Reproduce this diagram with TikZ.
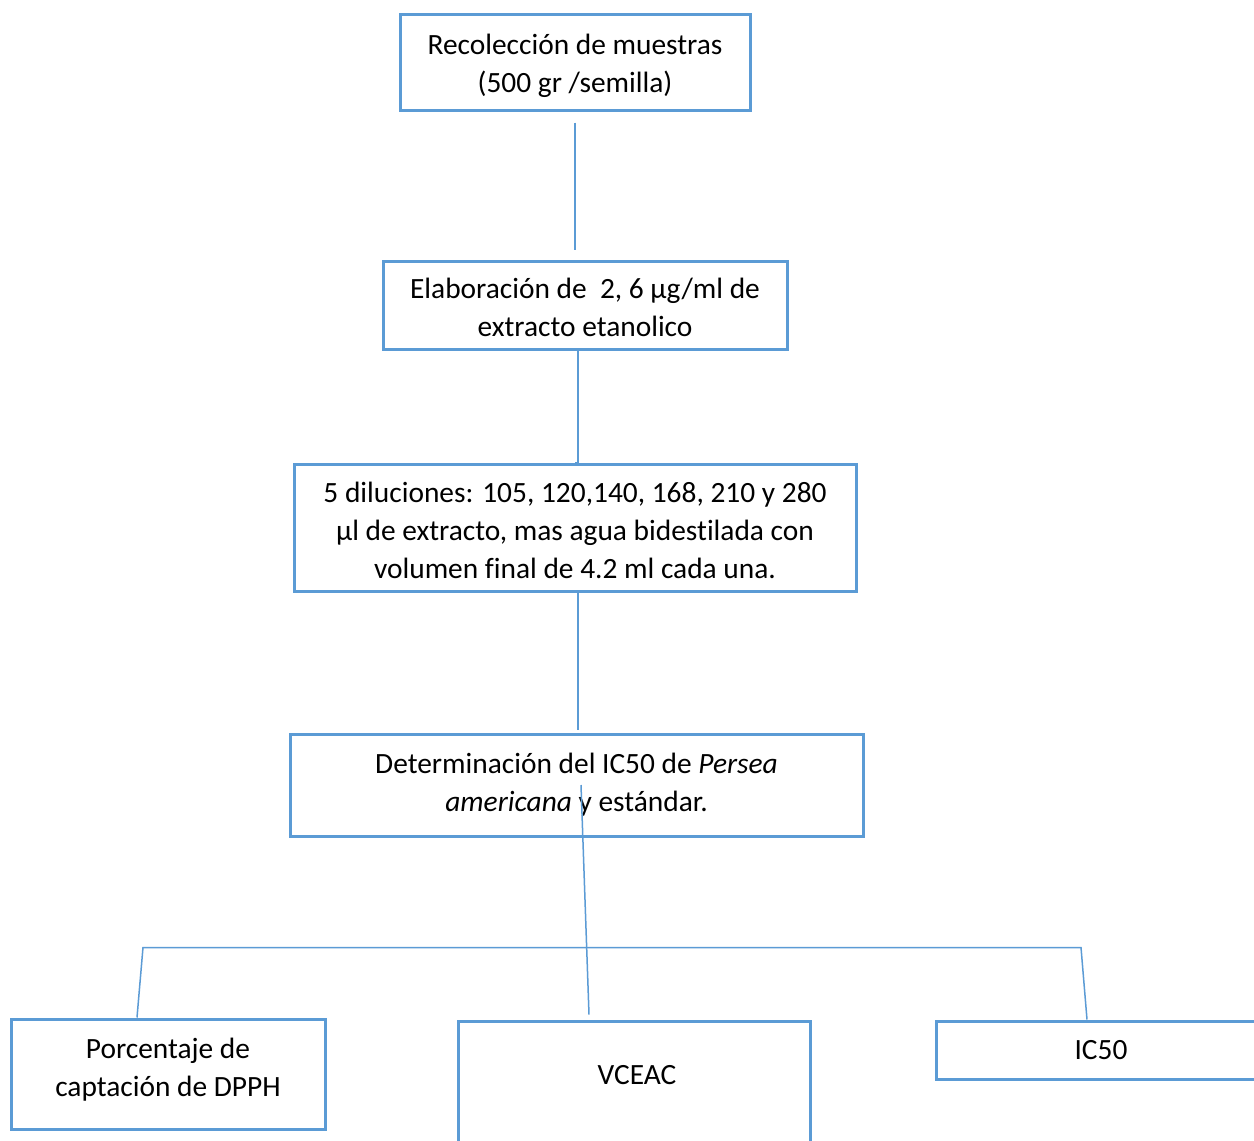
\documentclass[tikz,border=0pt]{standalone}
\usepackage{fontspec}
\setmainfont[Ligatures=NoCommon]{Carlito}
\usetikzlibrary{calc}
\definecolor{offblue}{HTML}{5B9BD5}
\newcommand{\shtxt}[2]{\raisebox{#1}[\height][\depth]{\begin{tabular}{@{}c@{}}#2\end{tabular}}}
\tikzset{
  box/.style={draw=offblue, line width=1.5pt, fill=white, inner sep=0pt,
    font=\fontsize{14.7}{19}\selectfont, text=black},
  conn/.style={draw=offblue, line width=0.75pt},
}
\begin{document}
\begin{tikzpicture}[x=0.5pt, y=-0.5pt]
\useasboundingbox (0,0) rectangle (1254,1141);
\clip (0,0) rectangle (1254,1141);
\fill[white] (0,0) rectangle (1254,1141);

\node[box, minimum width=175pt, minimum height=48pt] (r) at (575,62)
  {\shtxt{-2pt}{Recolección de muestras\\(500 gr /semilla)}};
\node[box, minimum width=202pt, minimum height=44pt] (e) at (585,305)
  {\shtxt{-2.2pt}{Elaboración de \ 2, 6 µg/ml de\\extracto etanolico}};
\node[box, minimum width=281pt, minimum height=63.5pt] (d) at (575,527.5)
  {\shtxt{-2.5pt}{5 diluciones: 105, 120,140, 168, 210 y 280\\µl de extracto, mas agua bidestilada con\\volumen final de 4.2 ml cada una.}};
\node[box, minimum width=286.5pt, minimum height=51pt] (det) at (576.5,785)
  {\shtxt{0pt}{Determinación del IC50 de \textit{Persea}\\\textit{americana} y estándar.}};
\node[box, minimum width=157pt, minimum height=55pt] (p) at (168,1074)
  {\shtxt{2pt}{Porcentaje de\\captación de DPPH}};
\node[box, minimum width=176pt, text height=31.5pt, text depth=50pt, anchor=base] (v) at (634,1084)
  {\hspace*{3pt}VCEAC};
\node[box, minimum width=165pt, minimum height=29pt] (i) at (1101,1050)
  {\shtxt{-1pt}{IC50}};

\draw[conn] ($(r.south)+(0,11)$) -- ($(r.south |- e.north)+(0,-10)$);
\draw[conn] ($(e.south)+(-7,0)$) -- ($(e.south -| d.north)+(3,0)$) |- (d.north);
\draw[conn] ($(d.south)+(3,0)$) -- ($(d.south |- det.north)+(3,-3)$);
\draw[conn] ($(det.center)+(4.5,0)$) -- ($(v.north)+(-45,-5)$);
\draw[conn] ($(p.north)+(-31,0)$) -- ++(6,-70) -- ++(938,0) -- ($(i.north)+(-14,0)$);
\end{tikzpicture}
\end{document}
